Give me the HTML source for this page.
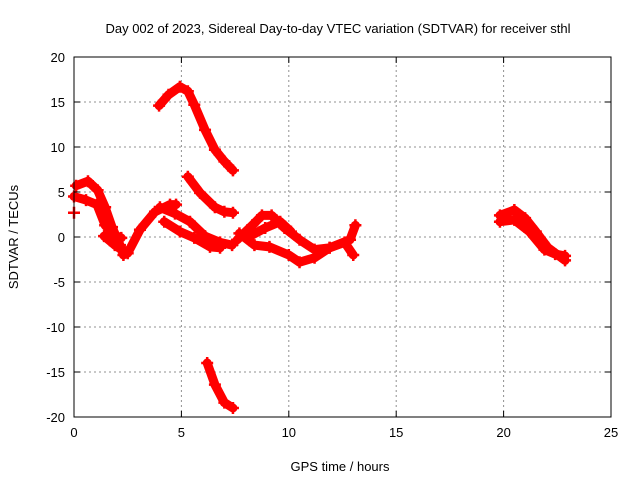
<!DOCTYPE html>
<html><head><meta charset="utf-8"><style>
body{margin:0;background:#fff}
svg text{font-family:"Liberation Sans",sans-serif;font-size:13px;fill:#000}
</style></head><body>
<svg id="chart" width="640" height="480" xmlns="http://www.w3.org/2000/svg">
<rect width="640" height="480" fill="#fff"/>
<text x="338" y="33" text-anchor="middle" font-size="14">Day 002 of 2023, Sidereal Day-to-day VTEC variation (SDTVAR) for receiver sthl</text>
<text x="340" y="471" text-anchor="middle">GPS time / hours</text>
<text transform="translate(18,237) rotate(-90)" text-anchor="middle">SDTVAR / TECUs</text>
<g id="grid"></g>
<g id="marks"></g>
<rect x="74" y="57" width="537" height="360" fill="none" stroke="#000" stroke-width="1"/>
<g id="ticks"></g>
</svg>
<script>
const xTicks=[0,5,10,15,20,25];
const yTicks=[-20,-15,-10,-5,0,5,10,15,20];
const track1x=[3.96,4.4,4.93,5.3,5.6,6.1,6.56,7.0,7.4];
const track1y=[14.6,15.8,16.7,16.2,14.7,11.9,9.7,8.4,7.4];
const track2x=[6.2,6.56,7.0,7.4];
const track2y=[-14,-16.4,-18.4,-19];
const track3x=[5.3,5.87,6.56,7.0,7.4];
const track3y=[6.7,4.9,3.3,2.8,2.7];
const track4x=[0.1,0.65,1.1,1.45,1.77,2.14,2.3];
const track4y=[5.7,6.2,5.2,3.3,1.1,-0.9,-2];
const track5x=[0,0.56,1.07,1.45,1.9,2.2];
const track5y=[4.5,4.1,3.6,1.3,0.2,-0.1];
const track6x=[1.4,1.9,2.4];
const track6y=[0.1,-0.9,-1.7];
const track7x=[2.5,3.07,3.77,4.47,4.75];
const track7y=[-1.8,0.8,2.8,3.6,3.6];
const track8x=[4.0,4.7,5.4,6.1,6.8,7.36];
const track8y=[3.3,2.6,1.7,0.1,-0.6,-0.9];
const track9x=[4.2,4.93,5.6,6.33,6.8];
const track9y=[1.7,0.6,-0.1,-1.1,-1.2];
const track10x=[7.6,8.3,8.75,9.2,9.8,10.5,11.2,11.9,12.85,13.1];
const track10y=[-0.3,1.3,2.4,2.4,1.0,-0.3,-1.4,-1.2,-0.3,1.3];
const track11x=[7.7,8.4,9.1,10.0,10.5,11.2,11.9,12.6,13.0];
const track11y=[0.4,-0.9,-1.1,-2.0,-2.8,-2.3,-1.2,-0.6,-2.0];
const track12x=[8.2,8.9,9.6,10.1];
const track12y=[0.1,1.0,1.7,0.6];
const track13x=[19.83,20.5,21.0,21.5,22.07,22.86];
const track13y=[2.4,3.0,2.1,0.6,-1.2,-2.6];
const track14x=[19.83,20.5,21.2,21.9,22.4,22.86];
const track14y=[1.7,1.9,0.6,-1.4,-1.9,-2.1];
const singleX=[0];
const singleY=[2.7];
const tracksX=[track1x,track2x,track3x,track4x,track5x,track6x,track7x,track8x,track9x,track10x,track11x,track12x,track13x,track14x,singleX];
const tracksY=[track1y,track2y,track3y,track4y,track5y,track6y,track7y,track8y,track9y,track10y,track11y,track12y,track13y,track14y,singleY];

const X0=74,X1=611,Y0=417,Y1=57;
function sx(v){return X0+(v-0)/(25-0)*(X1-X0);}
function sy(v){return Y0-(v+20)/40*(Y0-Y1);}
const NS="http://www.w3.org/2000/svg";
const grid=document.getElementById('grid'),ticks=document.getElementById('ticks'),marks=document.getElementById('marks');
function mk(tag,attrs,parent){const e=document.createElementNS(NS,tag);for(const k in attrs)e.setAttribute(k,attrs[k]);parent.appendChild(e);return e;}
xTicks.forEach(t=>{
  const x=sx(t);
  if(t>0&&t<25){const g=mk('line',{x1:x,x2:x,y1:Y0,y2:Y1,stroke:'#909090','stroke-dasharray':'2,3'},grid);
  
  }
  mk('line',{x1:x,x2:x,y1:Y0,y2:Y0-6,stroke:'#000'},ticks);
  mk('line',{x1:x,x2:x,y1:Y1,y2:Y1+6,stroke:'#000'},ticks);
  const l=mk('text',{x:x,y:Y0+20,'text-anchor':'middle'},ticks);l.textContent=t;
  
  
});
yTicks.forEach(t=>{
  const y=sy(t);
  if(t>-20&&t<20){const g=mk('line',{x1:X0,x2:X1,y1:y,y2:y,stroke:'#909090','stroke-dasharray':'2,3'},grid);
  
  }
  mk('line',{x1:X0,x2:X0+6,y1:y,y2:y,stroke:'#000'},ticks);
  mk('line',{x1:X1,x2:X1-6,y1:y,y2:y,stroke:'#000'},ticks);
  const l=mk('text',{x:X0-9,y:y+5,'text-anchor':'end'},ticks);l.textContent=t;
  
  
});
tracksX.forEach((xs,i)=>{
  const ys=tracksY[i];
  const pts=xs.map((v,j)=>sx(v)+','+sy(ys[j])).join(' ');
  const p=mk('polyline',{points:pts,fill:'none',stroke:'#ff0000','stroke-width':9,'stroke-linejoin':'round','stroke-linecap':'round'},marks);
  
  
  xs.forEach((v,j)=>{
    const cx=sx(v),cy=sy(ys[j]);
    const m=mk('path',{d:`M${cx-6},${cy}H${cx+6}M${cx},${cy-6}V${cy+6}`,stroke:'#ff0000','stroke-width':2.5},marks);
    
    
  });
});
</script>
</body></html>
